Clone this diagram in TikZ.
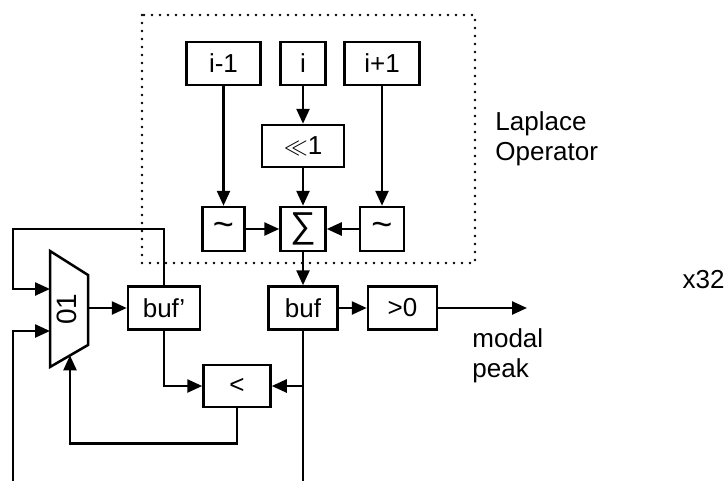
\documentclass[tikz,border=0pt]{standalone}
\usepackage{fontspec}
\setmainfont{Liberation Sans}
\usetikzlibrary{arrows.meta}

\tikzset{
  blk/.style={draw, line width=1.25pt, minimum height=21.5pt, inner sep=0pt},
  wire/.style={line width=1.25pt},
  arr/.style={wire, -{Triangle[length=7.5pt,width=6.5pt]}},
  txt/.style={inner sep=0pt, align=left},
}

\begin{document}
\begin{tikzpicture}[x=0.5pt,y=-0.5pt, font=\fontsize{13}{15}\selectfont]
  \useasboundingbox (0,0) rectangle (726,481);
  % laplace operator
  \draw[line width=1.3pt, line cap=round, dash pattern=on 0pt off 4pt] (142,15) rectangle (475,263);
  \node[blk, minimum width=37pt] (im1) at (223.5,63.5) {i-1};
  \node[blk, minimum width=22.5pt] (i) at (303,63.5) {i};
  \node[blk, minimum width=37.5pt] (ip1) at (382,63.5) {i+1};
  \node[blk, minimum width=41pt, minimum height=21pt] (shl) at (303,146) {$\ll$1};
  \node[blk, minimum width=21pt, minimum height=22pt, font=\fontsize{18}{18}\selectfont] (tl) at (223.5,229) {\textasciitilde};
  \node[blk, minimum width=22.5pt, minimum height=22pt, font=\fontsize{18}{18}\selectfont] (sum) at (303,229) {∑};
  \node[blk, minimum width=22pt, minimum height=22pt, font=\fontsize{18}{18}\selectfont] (tr) at (382,229) {\textasciitilde};
  \draw[arr] (im1) -- (tl);
  \draw[arr] (i) -- (shl);
  \draw[arr] (shl) -- (sum);
  \draw[arr] (ip1) -- (tr);
  \draw[arr] (tl) -- (sum);
  \draw[arr] (tr) -- (sum);
  \node[txt, anchor=west] (lap) at (495,139) {Laplace\\Operator};
  % buffers
  \node[blk, minimum width=36pt] (bufp) at (164,308) {buf'};
  \node[blk, minimum width=34.5pt] (buf) at (303,308) {buf};
  \node[blk, minimum width=34.5pt] (pos) at (402.5,308) {>0};
  \node[blk, minimum width=33.5pt, minimum height=21pt] (lt) at (237,386) {<};
  % mux
  \draw[wire, line join=miter] (50,251) -- (88,275) -- (88,345) -- (50,367) -- cycle;
  \coordinate (mux-a) at (50,289); \coordinate (mux-b) at (50,331);
  \coordinate (mux-s) at (70,355.4); \coordinate (mux-o) at (88,308);
  \node[rotate=90, font=\fontsize{14}{14}\selectfont] (muxlbl) at (67,309) {01};
  \coordinate (fbtop) at (13,229); \coordinate (fbin) at (13,481);
  \coordinate (bufend) at (303,481); \coordinate (out) at (527,308);
  \draw[arr] (bufp.north) |- (fbtop) |- (mux-a);
  \draw[arr] (fbin) |- (mux-b);
  \draw[arr] (mux-o) -- (bufp);
  \draw[arr] (sum) -- (buf);
  \draw[arr] (buf) -- (pos);
  \draw[arr] (pos) -- (out);
  \draw[wire] (buf.south) -- (bufend);
  \draw[arr] (buf.south |- lt) -- (lt.east);
  \draw[arr] (bufp.south) |- (lt.west);
  \draw[arr] (lt.south) -- ++(0,35) -| (mux-s);
  \node[txt, anchor=west] (peak) at (472,356) {modal\\peak};
  \node[txt, anchor=east] (cnt) at (725,280) {x32};
\end{tikzpicture}
\end{document}
